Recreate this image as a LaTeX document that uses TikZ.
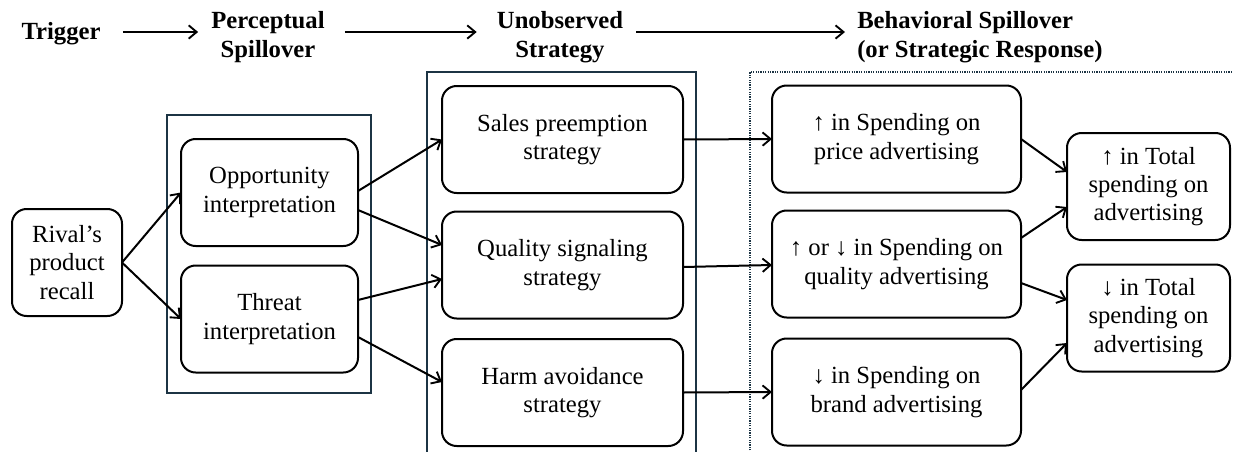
\documentclass[tikz,border=0pt]{standalone}
\usepackage{fontspec}
\setmainfont{Liberation Serif}
\usetikzlibrary{arrows.meta,calc}
\definecolor{navy}{RGB}{28,52,68}
\begin{document}
\begin{tikzpicture}[x=0.75pt,y=-0.75pt,
  box/.style={draw=black,line width=1.5pt,rounded corners=11pt,align=center,
    inner sep=0pt,outer sep=0pt,minimum height=80.25pt,
    font=\fontsize{18.5}{21.3}\selectfont},
  hdr/.style={align=center,inner sep=0pt,font=\fontsize{18.5}{21.3}\selectfont\bfseries},
  con/.style={line width=1.5pt,-{Straight Barb[length=6pt,width=10pt,line width=1.4pt]}},
  group/.style={draw=navy,line width=1.6pt}
]
\useasboundingbox (0,0) rectangle (1233,451);
% header
\node[hdr] (trig) at (61,34) {Trigger};
\node[hdr] (perc) at (268,37) {Perceptual\\Spillover};
\node[hdr] (unob) at (560,37) {Unobserved\\Strategy};
\node[hdr,align=left,anchor=west] (behav) at (857,37) {Behavioral Spillover\\(or Strategic Response)};
\draw[con] ([xshift=16.5pt]trig.east |- 0,32) -- ([xshift=-9.75pt]perc.west |- 0,32);
\draw[con] ([xshift=15pt]perc.east |- 0,32) -- ([xshift=-15pt]unob.west |- 0,32);
\draw[con] ([xshift=9.75pt]unob.east |- 0,32) -- ([xshift=-9pt]behav.west |- 0,32);
% groups
\draw[group] (167,115) rectangle (371,393);
\draw[group] (427,460) -- (427,72) -- (696,72) -- (696,460);
\draw[navy,line width=1.3pt,dash pattern=on 0.9pt off 0.9pt] (750,460) -- (750,72) -- (1240,72);
% nodes
\node[box,minimum width=82.5pt] (rival) at (67,262.5) {Rival’s\\product\\recall};
\node[box,minimum width=132.75pt] (opp) at (269.5,192.5) {Opportunity\\interpretation};
\node[box,minimum width=132.75pt] (thr) at (269.5,319) {Threat\\interpretation};
\node[box,minimum width=180.75pt] (sales) at (562.5,139.5) {Sales preemption\\strategy};
\node[box,minimum width=180.75pt] (qual) at (562.5,265) {Quality signaling\\strategy};
\node[box,minimum width=180.75pt] (harm) at (562.5,392.5) {Harm avoidance\\strategy};
\node[box,minimum width=186.75pt] (price) at (896.5,139) {↑ in Spending on\\price advertising};
\node[box,minimum width=186.75pt] (qadv) at (896.5,264) {↑ or ↓ in Spending on\\quality advertising};
\node[box,minimum width=186.75pt] (brand) at (896.5,392) {↓ in Spending on\\brand advertising};
\node[box,minimum width=122.25pt] (totup) at (1148.5,186.5) {↑ in Total\\spending on\\advertising};
\node[box,minimum width=122.25pt] (totdn) at (1148.5,318) {↓ in Total\\spending on\\advertising};
% connectors
\draw[con] (rival.east) -- (opp.west);
\draw[con] (rival.east) -- (thr.west);
\draw[con] ($(opp.east)+(0,-1.5)$) -- (sales.west);
\draw[con] ($(opp.east)+(0,17.5)$) -- ($(qual.west)+(0,-20)$);
\draw[con] ($(thr.east)+(0,-19)$) -- ($(qual.west)+(0,14)$);
\draw[con] ($(thr.east)+(0,18)$) -- ($(harm.west)+(0,-10.5)$);
\draw[con] (sales.east) -- (price.west);
\draw[con] ($(qual.east)+(0,2)$) -- ($(qadv.west)+(0,1)$);
\draw[con] (harm.east) -- (brand.west);
\draw[con] (price.east) -- ($(totup.west)+(0,-14.5)$);
\draw[con] ($(qadv.east)+(0,-26)$) -- ($(totup.west)+(0,20.5)$);
\draw[con] ($(qadv.east)+(0,19)$) -- ($(totdn.west)+(0,-18)$);
\draw[con] ($(brand.east)+(0,-2)$) -- ($(totdn.west)+(0,25)$);
\end{tikzpicture}
\end{document}
